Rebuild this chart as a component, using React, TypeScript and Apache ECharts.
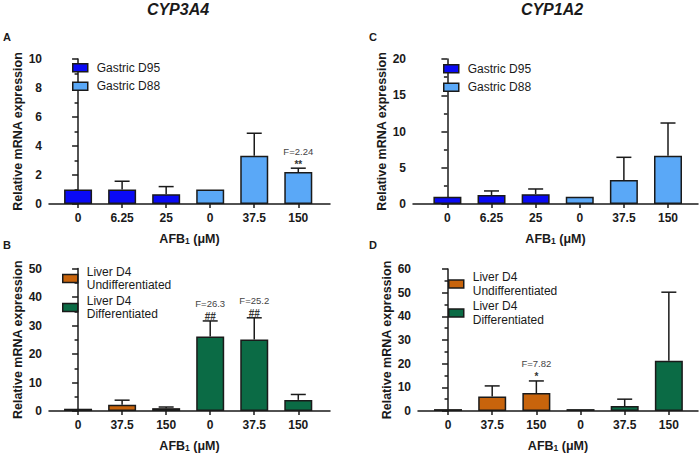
import React, { useEffect, useRef } from "react";
import * as echarts from "echarts";

// ---------- DATA ----------
const labelsGastric = ["0", "6.25", "25", "0", "37.5", "150"];
const labelsLiver = ["0", "37.5", "150", "0", "37.5", "150"];

// Panel A (CYP3A4, gastric)
const aD95Mean = [1.0, 1.0, 0.68];
const aD88Mean = [1.0, 3.33, 2.2];
const aErrTop = [1.0, 1.57, 1.2, 1.0, 4.88, 2.47];
const aFStat = ["", "", "", "", "", "F=2.24"];
const aSig = ["", "", "", "", "", "**"];

// Panel C (CYP1A2, gastric)
const cD95Mean = [1.0, 1.24, 1.36];
const cD88Mean = [1.0, 3.3, 6.67];
const cErrTop = [1.0, 1.8, 2.07, 1.0, 6.44, 11.17];
const cFStat = ["", "", "", "", "", ""];
const cSig = ["", "", "", "", "", ""];

// Panel B (CYP3A4, liver)
const bUndiffMean = [0.8, 2.2, 1.0];
const bDiffMean = [26.1, 25.1, 3.9];
const bErrTop = [0.8, 3.8, 1.4, 31.6, 32.7, 5.8];
const bFStat = ["", "", "", "F=26.3", "F=25.2", ""];
const bSig = ["", "", "", "##", "##", ""];

// Panel D (CYP1A2, liver)
const dUndiffMean = [0.8, 6.1, 7.6];
const dDiffMean = [0.8, 2.1, 21.2];
const dErrTop = [0.8, 10.6, 12.7, 0.8, 5.0, 50.2];
const dFStat = ["", "", "F=7.82", "", "", ""];
const dSig = ["", "", "*", "", "", ""];

const seriesGastric = ["Gastric D95", "Gastric D88"];
const seriesLiver = ["Liver D4\nUndifferentiated", "Liver D4\nDifferentiated"];

const colors = {
  d95: "#0a0af5",
  d88: "#5aa8f7",
  undiff: "#c8640c",
  diff: "#0b6b45",
};

const FONT = "Arial, 'Liberation Sans', Helvetica, sans-serif";
const INK = "#1a1a1a";

type Panel = {
  labels: string[];
  g1: number[];
  g2: number[];
  errTop: number[];
  fStat: string[];
  sig: string[];
  names: string[];
  c1: string;
  c2: string;
  yMax: number;
  yInterval: number;
  grid: { left: number; top: number; width: number; height: number };
  xMin: number;
  xMax: number;
  legend: { left: number; top: number; itemGap: number };
};

const panels: Panel[] = [
  {
    labels: labelsGastric, g1: aD95Mean, g2: aD88Mean, errTop: aErrTop, fStat: aFStat, sig: aSig,
    names: seriesGastric, c1: colors.d95, c2: colors.d88, yMax: 10, yInterval: 2,
    grid: { left: 49, top: 59, width: 281, height: 145 }, xMin: -0.66, xMax: 5.72,
    legend: { left: 72, top: 61, itemGap: 5 },
  },
  {
    labels: labelsLiver, g1: bUndiffMean, g2: bDiffMean, errTop: bErrTop, fStat: bFStat, sig: bSig,
    names: seriesLiver, c1: colors.undiff, c2: colors.diff, yMax: 50, yInterval: 10,
    grid: { left: 49, top: 268.5, width: 281, height: 145 }, xMin: -0.66, xMax: 5.72,
    legend: { left: 62, top: 265, itemGap: 2 },
  },
  {
    labels: labelsGastric, g1: cD95Mean, g2: cD88Mean, errTop: cErrTop, fStat: cFStat, sig: cSig,
    names: seriesGastric, c1: colors.d95, c2: colors.d88, yMax: 20, yInterval: 5,
    grid: { left: 413, top: 59, width: 285, height: 145 }, xMin: -0.78, xMax: 5.68,
    legend: { left: 443, top: 62, itemGap: 5 },
  },
  {
    labels: labelsLiver, g1: dUndiffMean, g2: dDiffMean, errTop: dErrTop, fStat: dFStat, sig: dSig,
    names: seriesLiver, c1: colors.undiff, c2: colors.diff, yMax: 60, yInterval: 10,
    grid: { left: 418, top: 269, width: 280, height: 144.5 }, xMin: -0.68, xMax: 5.66,
    legend: { left: 448, top: 270.5, itemGap: 2 },
  },
];

const idx = [0, 1, 2, 3, 4, 5];

function buildOption() {
  const grids: any[] = [];
  const xAxes: any[] = [];
  const yAxes: any[] = [];
  const series: any[] = [];
  const legends: any[] = [];

  panels.forEach((p, i) => {
    grids.push({ ...p.grid, containLabel: false });
    const labels = p.labels;
    xAxes.push({
      type: "value",
      gridIndex: i,
      min: p.xMin,
      max: p.xMax,
      splitLine: { show: false },
      axisLine: { show: true, lineStyle: { color: INK, width: 1.5 } },
      axisTick: { show: true, customValues: idx, length: 4, lineStyle: { color: INK, width: 1.5 } },
      axisLabel: {
        customValues: idx,
        formatter: (v: number) => labels[Math.round(v)] ?? "",
        margin: 8,
        fontFamily: FONT,
        fontWeight: "bold",
        fontSize: 12,
        color: INK,
      },
      name: "{a|AFB}{s|1}{a| (μM)}",
      nameLocation: "middle",
      nameGap: 26,
      nameTextStyle: {
        rich: {
          a: { fontFamily: FONT, fontWeight: "bold", fontSize: 12.5, color: INK, lineHeight: 15, verticalAlign: "bottom" },
          s: { fontFamily: FONT, fontWeight: "bold", fontSize: 8.5, color: INK, lineHeight: 15, verticalAlign: "bottom", padding: [4, 0, 0, 0] },
        },
      },
    });
    yAxes.push({
      type: "value",
      gridIndex: i,
      min: 0,
      max: p.yMax,
      interval: p.yInterval,
      splitLine: { show: false },
      axisLine: { show: true, lineStyle: { color: INK, width: 1.5 } },
      axisTick: { show: true, length: 6, lineStyle: { color: INK, width: 1.5 } },
      minorTick: { show: true, splitNumber: 2, length: 3.5, lineStyle: { color: INK, width: 1.5 } },
      axisLabel: { fontFamily: FONT, fontWeight: "bold", fontSize: 12, color: INK, margin: 7 },
      name: "Relative mRNA expression",
      nameLocation: "middle",
      nameGap: 25,
      nameTextStyle: { fontFamily: FONT, fontWeight: "bold", fontSize: 12.5, color: INK },
    });

    const mkBar = (name: string, color: string, vals: number[], offset: number) => ({
      type: "bar",
      name,
      xAxisIndex: i,
      yAxisIndex: i,
      barWidth: 28,
      barGap: "-100%",
      data: vals.map((v, k) => [k + offset, v]),
      itemStyle: { color, borderColor: INK, borderWidth: 1.5 },
      z: 2,
    });
    series.push(mkBar(p.names[0], p.c1, p.g1, 0));
    series.push(mkBar(p.names[1], p.c2, p.g2, 3));

    const means = [...p.g1, ...p.g2];
    const fStat = p.fStat;
    const sig = p.sig;
    series.push({
      type: "custom",
      xAxisIndex: i,
      yAxisIndex: i,
      z: 3,
      silent: true,
      data: means.map((m, k) => [k, m, p.errTop[k]]),
      renderItem: (params: any, api: any) => {
        const k = params.dataIndex;
        const x = api.value(0);
        const mean = api.value(1);
        const top = api.value(2);
        const p0 = api.coord([x, mean]);
        const p1 = api.coord([x, top]);
        const children: any[] = [];
        const ls = { stroke: INK, lineWidth: 1.5 };
        if (top > mean) {
          children.push({ type: "line", shape: { x1: p0[0], y1: p0[1], x2: p1[0], y2: p1[1] }, style: ls });
          children.push({ type: "line", shape: { x1: p1[0] - 7.5, y1: p1[1], x2: p1[0] + 7.5, y2: p1[1] }, style: ls });
        }
        if (sig[k]) {
          children.push({
            type: "text",
            x: p1[0],
            y: p1[1] + 1,
            style: {
              text: sig[k],
              font: `bold 10px ${FONT}`,
              fill: "#333",
              align: "center",
              verticalAlign: "bottom",
              textAlign: "center",
              textVerticalAlign: "bottom",
            },
          });
        }
        if (fStat[k]) {
          children.push({
            type: "text",
            x: p1[0],
            y: p1[1] - 12,
            style: {
              text: fStat[k],
              font: `9.5px ${FONT}`,
              fill: "#444",
              align: "center",
              verticalAlign: "bottom",
              textAlign: "center",
              textVerticalAlign: "bottom",
            },
          });
        }
        return { type: "group", children };
      },
    });

    legends.push({
      orient: "vertical",
      left: p.legend.left,
      top: p.legend.top,
      itemGap: p.legend.itemGap,
      itemWidth: 15,
      itemHeight: 8,
      padding: 0,
      icon: "rect",
      selectedMode: false,
      data: p.names.map((n) => ({ name: n })),
      textStyle: { fontFamily: FONT, fontSize: 12, color: INK, lineHeight: 13.5, padding: [0, 0, 0, 4] },
      itemStyle: { borderColor: INK, borderWidth: 1.5 },
    });
  });

  const titleStyle = { fontFamily: FONT, fontWeight: "bold", fontStyle: "italic", fontSize: 16, color: INK };
  const letterStyle = { fontFamily: FONT, fontWeight: "bold", fontSize: 11, color: INK };

  return {
    animation: false,
    backgroundColor: "#ffffff",
    title: [
      { text: "CYP3A4", left: 178, top: 1, textAlign: "center", textStyle: titleStyle, padding: 0 },
      { text: "CYP1A2", left: 552, top: 1, textAlign: "center", textStyle: titleStyle, padding: 0 },
      { text: "A", left: 3, top: 31, textStyle: letterStyle, padding: 0 },
      { text: "B", left: 3, top: 239, textStyle: letterStyle, padding: 0 },
      { text: "C", left: 369, top: 31, textStyle: letterStyle, padding: 0 },
      { text: "D", left: 369, top: 239, textStyle: letterStyle, padding: 0 },
    ],
    grid: grids,
    xAxis: xAxes,
    yAxis: yAxes,
    legend: legends,
    series,
  };
}

export default function App() {
  const ref = useRef<HTMLDivElement>(null);
  useEffect(() => {
    document.body.style.margin = "0";
    if (!ref.current) return;
    const chart = echarts.init(ref.current, undefined, { renderer: "svg" });
    chart.setOption(buildOption() as any);
    return () => chart.dispose();
  }, []);
  return <div ref={ref} style={{ width: 700, height: 453, background: "#fff" }} />;
}
